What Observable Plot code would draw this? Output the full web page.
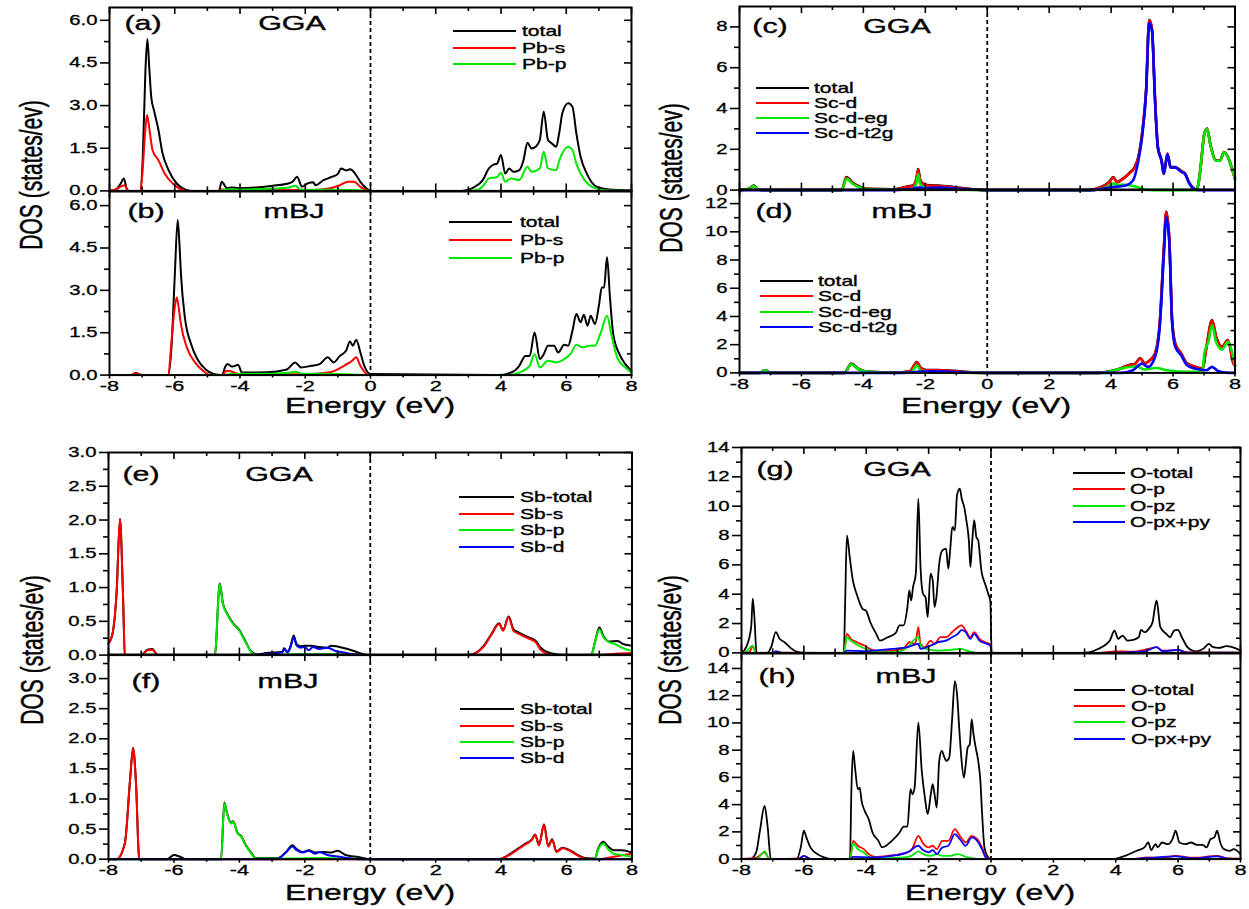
<!DOCTYPE html>
<html><head><meta charset="utf-8">
<script src="https://cdn.jsdelivr.net/npm/d3@7"></script>
<script src="https://cdn.jsdelivr.net/npm/@observablehq/plot@0.6"></script>
<style>
html,body{margin:0;padding:0;background:#fff;}
#root{position:relative;width:1249px;height:909px;overflow:hidden;background:#fff;font-family:"Liberation Sans",Arial,sans-serif;}
.t{position:absolute;white-space:nowrap;color:#000;line-height:1;-webkit-text-stroke:0.35px #000;}
.lg{position:absolute;height:2px;}
</style></head><body><div id="root"></div>
<script>
// ---------- tick values ----------
const xTicks = [-8,-6,-4,-2,0,2,4,6,8];
const xMinor = [-7,-5,-3,-1,1,3,5,7];
const pbTicks = [0,1.5,3,4.5,6];
const pbMinor = [0.75,2.25,3.75,5.25];
const scTicksC = [0,2,4,6,8];
const scMinorC = [1,3,5,7];
const scTicksD = [0,2,4,6,8,10,12];
const scMinorD = [1,3,5,7,9,11];
const sbTicks = [0,0.5,1,1.5,2,2.5,3];
const sbMinor = [0.25,0.75,1.25,1.75,2.25,2.75,3.25];
const oTicks = [0,2,4,6,8,10,12,14];
const oMinor = [1,3,5,7,9,11,13];

// ---------- (a) GGA Pb ----------
const aTotal = [[-8,0],[-7.8,0.05],[-7.66,0.25],[-7.56,0.44],[-7.48,0.1],[-7.4,0],[-7.06,0],[-6.98,1.2],[-6.9,4.2],[-6.84,5.34],[-6.78,4.3],[-6.72,3.3],[-6.63,2.8],[-6.5,2.14],[-6.38,1.35],[-6.19,0.73],[-5.94,0.26],[-5.69,0.05],[-5.5,0],[-4.65,0],[-4.56,0.32],[-4.4,0.1],[-4.25,0.12],[-4.06,0.1],[-3.5,0.12],[-3.0,0.18],[-2.56,0.25],[-2.38,0.33],[-2.25,0.5],[-2.1,0.15],[-1.9,0.28],[-1.75,0.3],[-1.69,0.2],[-1.44,0.38],[-1.19,0.49],[-1.0,0.6],[-0.9,0.79],[-0.75,0.72],[-0.63,0.76],[-0.5,0.65],[-0.44,0.55],[-0.31,0.32],[-0.12,0.08],[0,0],[2.8,0],[3.19,0.14],[3.44,0.38],[3.63,0.79],[3.75,0.91],[3.88,0.96],[4.0,1.26],[4.13,0.61],[4.25,0.79],[4.38,0.67],[4.56,0.73],[4.69,1.08],[4.81,1.69],[4.94,1.49],[5.06,1.55],[5.19,1.79],[5.31,2.79],[5.44,1.79],[5.56,1.67],[5.69,1.55],[5.79,2.08],[5.88,2.73],[6.06,3.08],[6.19,2.96],[6.31,2.02],[6.44,1.2],[6.63,0.61],[6.94,0.14],[7.31,0.05],[8,0.02]];
const aPbS = [[-8,0],[-7.8,0.05],[-7.6,0.18],[-7.53,0.2],[-7.47,0.05],[-7.4,0],[-7.05,0],[-6.98,0.8],[-6.9,2.2],[-6.85,2.67],[-6.78,2.2],[-6.68,1.43],[-6.5,1.08],[-6.31,0.61],[-6.06,0.26],[-5.81,0.05],[-5.6,0],[-4.65,0],[-4.56,0.06],[-4.4,0.02],[-2.0,0.03],[-1.5,0.05],[-1.2,0.1],[-0.94,0.2],[-0.69,0.32],[-0.5,0.32],[-0.31,0.14],[-0.12,0.02],[0,0],[8,0]];
const aPbP = [[-8,0],[-4.6,0],[-4.5,0.05],[-4.0,0.05],[-3.0,0.08],[-2.5,0.12],[-2.3,0.18],[-2.15,0.05],[-1.5,0.04],[-0.5,0.03],[0,0],[3.0,0],[3.31,0.05],[3.5,0.25],[3.63,0.44],[3.88,0.49],[4.0,0.64],[4.13,0.32],[4.31,0.44],[4.56,0.38],[4.81,0.85],[4.94,0.67],[5.19,0.79],[5.31,1.38],[5.44,0.79],[5.69,0.73],[5.79,1.08],[6.06,1.55],[6.19,1.44],[6.31,0.96],[6.56,0.38],[6.94,0.07],[7.3,0.01],[8,0]];

// ---------- (b) mBJ Pb ----------
const bTotal = [[-8,0],[-7.35,0],[-7.19,0.07],[-7.0,0],[-6.2,0],[-6.1,1.0],[-6.0,3.5],[-5.91,5.49],[-5.85,4.5],[-5.81,3.58],[-5.69,2.04],[-5.5,1.1],[-5.31,0.57],[-5.06,0.21],[-4.81,0.04],[-4.55,0],[-4.45,0.3],[-4.38,0.39],[-4.25,0.3],[-4.19,0.31],[-4.06,0.37],[-3.94,0.09],[-3.19,0.1],[-2.56,0.2],[-2.31,0.45],[-2.13,0.27],[-1.81,0.33],[-1.56,0.39],[-1.31,0.63],[-1.13,0.45],[-0.94,0.68],[-0.75,0.86],[-0.63,1.19],[-0.54,1.04],[-0.44,1.25],[-0.31,0.8],[-0.19,0.33],[0,0.04],[3.88,0],[4.31,0.09],[4.56,0.33],[4.75,0.68],[4.88,0.68],[5.03,1.51],[5.19,0.57],[5.31,0.74],[5.44,1.04],[5.63,1.04],[5.75,0.8],[5.94,1.07],[6.06,1.04],[6.19,1.57],[6.31,2.16],[6.44,1.87],[6.54,2.14],[6.65,1.75],[6.75,2.1],[6.88,1.81],[7.0,2.46],[7.09,3.1],[7.16,3.1],[7.25,4.17],[7.34,2.75],[7.44,1.45],[7.63,0.74],[7.81,0.39],[8,0.15]];
const bPbS = [[-8,0],[-7.35,0],[-7.19,0.06],[-7.0,0],[-6.2,0],[-6.1,1.2],[-6.0,2.4],[-5.94,2.75],[-5.88,2.4],[-5.81,1.8],[-5.63,0.98],[-5.38,0.45],[-5.13,0.15],[-4.9,0],[-4.55,0],[-4.45,0.12],[-4.38,0.15],[-4.2,0.1],[-4.0,0.02],[-2.0,0.03],[-1.31,0.09],[-1.1,0.15],[-0.81,0.33],[-0.56,0.51],[-0.44,0.63],[-0.31,0.33],[-0.12,0.04],[0,0],[8,0]];
const bPbP = [[-8,0],[-4.5,0],[-4.3,0.04],[-3.0,0.05],[-2.4,0.1],[-2.3,0.12],[-2.1,0.05],[-1.0,0.04],[0,0],[4.2,0],[4.56,0.09],[4.88,0.33],[5.03,0.74],[5.19,0.27],[5.44,0.51],[5.69,0.45],[5.94,0.57],[6.13,0.74],[6.31,1.07],[6.5,0.98],[6.69,1.04],[6.88,1.04],[7.06,1.51],[7.25,2.1],[7.38,1.45],[7.56,0.63],[7.81,0.27],[8,0.09]];

// ---------- (c) GGA Sc ----------
const cTotal = [[-8,0],[-7.7,0.06],[-7.54,0.22],[-7.4,0.04],[-7.2,0],[-4.7,0],[-4.55,0.64],[-4.34,0.36],[-4.09,0.15],[-3.84,0.06],[-3.0,0.04],[-2.58,0.18],[-2.4,0.22],[-2.28,0.62],[-2.23,1.03],[-2.17,0.52],[-2.08,0.32],[-1.83,0.23],[-1.58,0.22],[-1.08,0.15],[-0.45,0.04],[0,0],[3.3,0],[3.6,0.11],[3.94,0.4],[4.07,0.64],[4.19,0.4],[4.38,0.56],[4.57,0.81],[4.76,1.13],[4.88,1.63],[5.0,2.77],[5.13,4.9],[5.23,8.35],[5.32,7.9],[5.42,4.4],[5.51,2.12],[5.63,1.46],[5.7,0.81],[5.82,1.79],[5.92,1.13],[6.07,1.13],[6.26,0.94],[6.39,0.81],[6.51,0.4],[6.64,0.11],[6.76,0.03],[6.82,0.31],[6.89,1.12],[7.01,2.76],[7.1,3.02],[7.2,2.28],[7.39,1.46],[7.52,1.46],[7.64,1.87],[7.77,1.63],[7.89,1.13],[8,0.56]];
const cScD = [[-8,0],[-7.7,0.05],[-7.54,0.2],[-7.4,0.03],[-7.2,0],[-4.7,0],[-4.55,0.6],[-4.34,0.33],[-4.09,0.13],[-3.84,0.05],[-3.0,0.03],[-2.58,0.16],[-2.4,0.2],[-2.28,0.6],[-2.23,1.0],[-2.17,0.5],[-2.08,0.3],[-1.83,0.21],[-1.58,0.2],[-1.08,0.13],[-0.45,0.03],[0,0],[3.3,0],[3.6,0.1],[3.94,0.38],[4.07,0.62],[4.19,0.38],[4.38,0.54],[4.57,0.79],[4.76,1.11],[4.88,1.61],[5.0,2.75],[5.13,4.89],[5.23,8.33],[5.32,7.87],[5.42,4.39],[5.51,2.1],[5.63,1.44],[5.7,0.79],[5.82,1.77],[5.92,1.11],[6.07,1.11],[6.26,0.92],[6.39,0.79],[6.51,0.38],[6.64,0.1],[6.76,0.02],[6.82,0.3],[6.89,1.11],[7.01,2.75],[7.1,3.0],[7.2,2.26],[7.39,1.44],[7.52,1.44],[7.64,1.85],[7.77,1.61],[7.89,1.11],[8,0.54]];
const cScEg = [[-8,0],[-7.7,0.05],[-7.54,0.2],[-7.4,0.03],[-7.2,0],[-4.7,0],[-4.55,0.55],[-4.34,0.3],[-4.09,0.12],[-3.84,0.04],[-3.0,0.02],[-2.4,0.05],[-2.28,0.4],[-2.23,0.79],[-2.17,0.3],[-2.0,0.08],[-1.5,0.06],[-1.0,0.04],[0,0],[3.4,0],[3.7,0.08],[3.94,0.21],[4.07,0.33],[4.2,0.25],[4.44,0.26],[4.82,0.16],[5.1,0.03],[5.4,0],[6.76,0],[6.82,0.3],[6.89,1.11],[7.01,2.75],[7.1,3.0],[7.2,2.26],[7.39,1.44],[7.52,1.44],[7.64,1.85],[7.77,1.61],[7.89,1.11],[8,0.54]];
const cScT2g = [[-8,0],[-3,0],[-2.5,0.05],[-2.2,0.12],[-2,0.1],[-1.5,0.12],[-1.0,0.08],[-0.4,0.02],[0,0],[3.4,0],[3.94,0.13],[4.44,0.21],[4.7,0.46],[4.88,1.44],[5.0,2.6],[5.13,4.8],[5.23,8.2],[5.32,7.8],[5.42,4.3],[5.51,2.05],[5.63,1.4],[5.7,0.79],[5.82,1.75],[5.92,1.1],[6.07,1.1],[6.26,0.9],[6.39,0.78],[6.51,0.37],[6.64,0.1],[6.8,0],[8,0]];

// ---------- (d) mBJ Sc ----------
const dTotal = [[-8,0],[-7.35,0],[-7.16,0.21],[-7.0,0],[-4.6,0],[-4.48,0.42],[-4.4,0.66],[-4.15,0.28],[-3.84,0.08],[-3.0,0.03],[-2.5,0.12],[-2.27,0.76],[-2.15,0.37],[-1.96,0.21],[-1.58,0.21],[-1.08,0.14],[-0.45,0.03],[0,0],[3.6,0],[4.0,0.13],[4.32,0.33],[4.57,0.56],[4.76,0.63],[4.94,1.04],[5.09,0.68],[5.26,0.92],[5.42,1.39],[5.57,3.52],[5.7,8.7],[5.78,11.43],[5.88,9.42],[5.97,3.75],[6.07,2.1],[6.26,1.39],[6.45,0.68],[6.7,0.45],[6.95,0.33],[7.08,1.86],[7.26,3.75],[7.39,2.57],[7.58,1.86],[7.77,2.33],[7.95,0.68],[8,0.52]];
const dScD = [[-8,0],[-7.35,0],[-7.16,0.19],[-7.0,0],[-4.6,0],[-4.48,0.4],[-4.4,0.63],[-4.15,0.26],[-3.84,0.07],[-3.0,0.02],[-2.5,0.1],[-2.27,0.73],[-2.15,0.35],[-1.96,0.19],[-1.58,0.19],[-1.08,0.12],[-0.45,0.02],[0,0],[3.6,0],[4.0,0.12],[4.32,0.31],[4.57,0.54],[4.76,0.61],[4.94,1.02],[5.09,0.66],[5.26,0.9],[5.42,1.37],[5.57,3.5],[5.7,8.69],[5.78,11.41],[5.88,9.4],[5.97,3.73],[6.07,2.08],[6.26,1.37],[6.45,0.66],[6.7,0.43],[6.95,0.31],[7.08,1.84],[7.26,3.73],[7.39,2.55],[7.58,1.84],[7.77,2.31],[7.95,0.66],[8,0.5]];
const dScEg = [[-8,0],[-7.35,0],[-7.16,0.19],[-7.0,0],[-4.6,0],[-4.48,0.4],[-4.4,0.61],[-4.15,0.24],[-3.84,0.07],[-3.0,0.01],[-2.45,0.05],[-2.27,0.54],[-2.15,0.15],[-1.9,0.06],[-1.0,0.03],[0,0],[3.69,0],[4.32,0.31],[4.82,0.47],[5.07,0.24],[5.45,0.35],[5.82,0.19],[6.45,0.07],[6.95,0.07],[7.01,1.37],[7.14,2.2],[7.26,3.38],[7.39,2.2],[7.58,1.65],[7.77,2.2],[7.89,1.6],[8,0.54]];
const dScT2g = [[-8,0],[-3,0],[-2.4,0.04],[-2.2,0.1],[-1.8,0.12],[-1.2,0.08],[-0.4,0.01],[0,0],[4.3,0],[4.7,0.19],[5.0,0.66],[5.19,0.43],[5.42,1.13],[5.57,3.26],[5.7,8.22],[5.78,11.06],[5.88,9.17],[5.97,3.5],[6.07,1.84],[6.26,1.25],[6.45,0.54],[6.7,0.31],[7.08,0.19],[7.26,0.43],[7.45,0.14],[7.7,0.02],[8,0]];

// ---------- (e) GGA Sb ----------
const eTotal = [[-8,0.17],[-7.88,0.31],[-7.75,0.95],[-7.65,2.02],[-7.56,0.95],[-7.5,0.01],[-7.45,0],[-7.0,0],[-6.81,0.08],[-6.66,0.09],[-6.5,0],[-4.75,0],[-4.6,1.06],[-4.5,0.76],[-4.38,0.62],[-4.19,0.47],[-4.0,0.37],[-3.81,0.2],[-3.63,0.05],[-3.44,0.01],[-3.19,0.03],[-2.69,0.05],[-2.63,0.1],[-2.53,0.05],[-2.44,0.13],[-2.34,0.29],[-2.25,0.16],[-2.13,0.13],[-2.0,0.14],[-1.81,0.14],[-1.56,0.12],[-1.31,0.11],[-1.19,0.14],[-0.94,0.12],[-0.69,0.09],[-0.44,0.05],[-0.19,0.01],[0,0],[3.0,0],[3.44,0.12],[3.69,0.3],[3.94,0.47],[4.06,0.37],[4.23,0.57],[4.38,0.38],[4.56,0.33],[4.81,0.27],[5.06,0.21],[5.19,0.12],[5.38,0.05],[5.6,0.02],[5.9,0],[6.75,0],[6.88,0.22],[7.0,0.41],[7.13,0.28],[7.31,0.2],[7.56,0.21],[7.75,0.16],[8,0.14]];
const eSbS = [[-8,0.17],[-7.88,0.31],[-7.75,0.95],[-7.65,2.01],[-7.56,0.95],[-7.5,0.01],[-7.45,0],[-7.0,0],[-6.81,0.07],[-6.66,0.08],[-6.5,0],[0,0],[3.0,0],[3.44,0.11],[3.69,0.29],[3.94,0.46],[4.06,0.36],[4.23,0.56],[4.38,0.36],[4.56,0.31],[4.81,0.25],[5.06,0.19],[5.19,0.09],[5.38,0.025],[5.56,0],[7.0,0],[7.5,0.02],[8,0.03]];
const eSbP = [[-8,0],[-4.75,0],[-4.6,1.05],[-4.5,0.75],[-4.38,0.61],[-4.19,0.46],[-4.0,0.36],[-3.81,0.19],[-3.63,0.04],[-3.44,0],[-2.5,0.01],[-1.5,0.015],[0,0],[6.75,0],[6.88,0.21],[7.0,0.38],[7.13,0.26],[7.31,0.19],[7.5,0.16],[7.69,0.11],[8,0.06]];
const eSbD = [[-8,0],[-3.5,0],[-3.19,0.015],[-2.69,0.04],[-2.63,0.09],[-2.53,0.04],[-2.44,0.11],[-2.34,0.26],[-2.25,0.14],[-2.13,0.11],[-2.0,0.12],[-1.88,0.07],[-1.75,0.12],[-1.56,0.09],[-1.31,0.11],[-1.06,0.06],[-0.81,0.04],[-0.56,0.015],[-0.31,0],[8,0]];

// ---------- (f) mBJ Sb ----------
const fTotal = [[-8,0],[-7.75,0],[-7.5,0.27],[-7.34,1.33],[-7.25,1.85],[-7.16,1.27],[-7.06,0],[-6.2,0],[-6.0,0.07],[-5.81,0.04],[-5.63,0],[-4.56,0],[-4.46,0.94],[-4.38,0.77],[-4.25,0.6],[-4.19,0.63],[-4.06,0.44],[-3.94,0.38],[-3.81,0.24],[-3.63,0.1],[-3.5,0.02],[-2.81,0.02],[-2.56,0.13],[-2.38,0.23],[-2.25,0.17],[-2.06,0.12],[-1.88,0.15],[-1.69,0.11],[-1.44,0.12],[-1.19,0.11],[-1.0,0.14],[-0.75,0.07],[-0.56,0.05],[-0.31,0.03],[0,0],[3.94,0],[4.31,0.1],[4.69,0.24],[4.94,0.33],[5.04,0.41],[5.16,0.24],[5.31,0.58],[5.44,0.22],[5.56,0.33],[5.69,0.13],[5.88,0.19],[6.06,0.16],[6.31,0.08],[6.56,0.02],[6.88,0.01],[6.94,0.13],[7.13,0.29],[7.25,0.22],[7.44,0.15],[7.69,0.15],[8,0.11]];
const fSbS = [[-8,0],[-7.75,0],[-7.5,0.26],[-7.34,1.32],[-7.25,1.84],[-7.16,1.26],[-7.06,0],[0,0],[3.94,0],[4.31,0.09],[4.69,0.23],[4.94,0.32],[5.04,0.4],[5.16,0.23],[5.31,0.57],[5.44,0.21],[5.56,0.32],[5.69,0.12],[5.88,0.18],[6.06,0.15],[6.31,0.07],[6.56,0.01],[7.0,0],[7.44,0.04],[8,0.09]];
const fSbP = [[-8,0],[-4.56,0],[-4.46,0.93],[-4.38,0.76],[-4.25,0.59],[-4.19,0.62],[-4.06,0.43],[-3.94,0.37],[-3.81,0.23],[-3.63,0.09],[-3.5,0.01],[-2.5,0.01],[-1.5,0.02],[0,0],[6.88,0],[6.94,0.12],[7.13,0.26],[7.25,0.18],[7.44,0.09],[7.69,0.07],[8,0.04]];
const fSbD = [[-8,0],[-2.9,0],[-2.81,0.01],[-2.56,0.12],[-2.38,0.21],[-2.25,0.15],[-2.06,0.11],[-1.88,0.14],[-1.69,0.09],[-1.56,0.12],[-1.31,0.07],[-0.94,0.04],[-0.56,0.01],[-0.3,0],[8,0]];

// ---------- (g) GGA O ----------
const gTotal = [[-8,0],[-7.85,0.39],[-7.69,1.75],[-7.64,3.69],[-7.58,2.2],[-7.52,0],[-7.18,0],[-7.05,0.39],[-6.9,1.41],[-6.78,0.96],[-6.62,0.73],[-6.43,0.34],[-6.18,0.05],[-5.93,0],[-4.72,0],[-4.68,3.12],[-4.62,8.01],[-4.53,6.53],[-4.43,4.94],[-4.31,4.03],[-4.12,3.0],[-4.0,2.85],[-3.87,2.09],[-3.68,1.3],[-3.56,0.84],[-3.31,1.07],[-3.06,1.34],[-2.93,1.87],[-2.81,1.87],[-2.68,3.12],[-2.62,4.26],[-2.56,3.57],[-2.5,4.48],[-2.41,5.4],[-2.33,10.52],[-2.26,5.85],[-2.18,4.03],[-2.1,3.8],[-2.03,2.44],[-1.94,5.4],[-1.87,4.94],[-1.81,3.12],[-1.75,3.8],[-1.66,6.08],[-1.56,6.99],[-1.44,7.1],[-1.37,5.74],[-1.31,6.99],[-1.24,8.58],[-1.16,8.35],[-1.09,10.74],[-1.0,11.2],[-0.94,10.52],[-0.86,9.95],[-0.79,9.04],[-0.71,7.67],[-0.66,5.85],[-0.6,7.67],[-0.54,9.04],[-0.47,7.9],[-0.41,7.67],[-0.31,5.62],[-0.19,4.71],[-0.09,4.03],[-0.02,3.5],[0.02,0],[2.93,0],[3.43,0.27],[3.81,0.84],[3.96,1.52],[4.08,0.96],[4.22,1.18],[4.37,0.84],[4.56,0.89],[4.74,1.07],[4.81,1.57],[4.93,1.41],[5.06,1.64],[5.18,2.09],[5.31,3.57],[5.43,1.75],[5.62,1.3],[5.74,1.07],[5.87,1.52],[5.99,1.57],[6.12,1.07],[6.3,0.39],[6.55,0.11],[6.8,0.27],[6.99,0.61],[7.12,0.39],[7.3,0.34],[7.55,0.46],[7.74,0.39],[8,0.16]];
const gOP = [[-8,0],[-7.75,0.05],[-7.64,0.45],[-7.55,0.05],[-7.5,0],[-7.0,0],[-6.9,0.1],[-6.7,0.02],[-4.72,0],[-4.62,1.3],[-4.5,0.96],[-4.3,0.73],[-4.06,0.5],[-3.81,0.2],[-3.56,0.11],[-3.18,0.16],[-2.81,0.27],[-2.62,0.73],[-2.43,0.61],[-2.33,1.75],[-2.26,0.61],[-2.12,0.39],[-1.94,0.84],[-1.81,0.61],[-1.62,1.07],[-1.44,1.07],[-1.25,1.41],[-1.06,1.75],[-0.94,1.87],[-0.81,1.52],[-0.66,1.07],[-0.54,1.41],[-0.37,0.96],[-0.19,0.73],[-0.02,0.57],[0.02,0],[3.5,0],[3.96,0.11],[4.5,0.08],[4.93,0.2],[5.31,0.39],[5.5,0.15],[5.99,0.2],[6.3,0.03],[8,0.02]];
const gOPz = [[-8,0],[-7.85,0.1],[-7.64,0.5],[-7.54,0],[-4.72,0],[-4.62,1.07],[-4.5,0.84],[-4.25,0.5],[-3.93,0.2],[-3.68,0.05],[-3.0,0.05],[-2.68,0.39],[-2.33,1.07],[-2.26,0.5],[-2.08,0.27],[-1.69,0.16],[-1.31,0.2],[-1.0,0.27],[-0.69,0.11],[-0.44,0],[8,0]];
const gOPxy = [[-8,0],[-7.0,0],[-6.9,0.1],[-6.7,0],[-4.72,0],[-4.62,0.15],[-4.0,0.12],[-3.81,0.16],[-3.18,0.27],[-2.68,0.39],[-2.33,0.61],[-2.26,0.27],[-1.94,0.5],[-1.69,0.73],[-1.44,0.84],[-1.25,1.07],[-1.06,1.3],[-0.94,1.57],[-0.81,1.41],[-0.66,0.96],[-0.54,1.3],[-0.37,0.84],[-0.12,0.61],[-0.02,0.5],[0.02,0],[3.5,0],[4.93,0.11],[5.31,0.39],[5.5,0.12],[5.99,0.2],[6.3,0.02],[8,0.01]];

// ---------- (h) mBJ O ----------
const hTotal = [[-8,0],[-7.72,0],[-7.53,0.49],[-7.41,2.08],[-7.26,3.91],[-7.16,2.32],[-7.06,0],[-6.23,0],[-6.1,0.86],[-6.0,2.08],[-5.92,1.59],[-5.79,0.86],[-5.6,0.42],[-5.35,0.12],[-5.1,0],[-4.52,0],[-4.48,4.76],[-4.42,7.94],[-4.36,6.72],[-4.27,5.13],[-4.21,5.25],[-4.15,4.28],[-4.05,3.54],[-3.92,2.93],[-3.8,1.95],[-3.61,1.34],[-3.49,0.86],[-3.18,1.34],[-2.93,1.95],[-2.8,2.39],[-2.68,2.39],[-2.58,5.13],[-2.52,4.76],[-2.45,5.25],[-2.33,10.02],[-2.22,6.47],[-2.12,4.52],[-2.03,3.3],[-1.93,4.76],[-1.87,5.5],[-1.81,4.76],[-1.74,3.79],[-1.66,7.21],[-1.58,7.94],[-1.49,7.45],[-1.43,7.21],[-1.34,7.45],[-1.25,10.14],[-1.16,13.07],[-1.08,11.85],[-1.02,9.65],[-0.96,7.7],[-0.87,5.99],[-0.81,6.96],[-0.75,8.18],[-0.68,8.43],[-0.62,10.26],[-0.56,9.16],[-0.49,8.18],[-0.41,7.21],[-0.34,5.74],[-0.29,3.54],[-0.21,0.86],[-0.12,0.24],[0,0],[3.92,0],[4.3,0.24],[4.67,0.61],[4.92,0.86],[5.04,1.22],[5.14,0.66],[5.27,1.1],[5.35,0.86],[5.48,1.22],[5.67,1.1],[5.82,1.47],[5.92,2.08],[6.04,1.22],[6.23,1.1],[6.41,1.22],[6.6,1.05],[6.79,1.05],[6.91,0.86],[7.04,1.47],[7.16,1.59],[7.25,2.08],[7.35,1.22],[7.47,0.73],[7.66,0.61],[7.78,0.73],[8,0.37]];
const hOP = [[-8,0],[-7.53,0.1],[-7.26,0.49],[-7.1,0],[-6.1,0.05],[-6.0,0.24],[-5.8,0.02],[-4.52,0],[-4.42,1.34],[-4.27,0.98],[-4.08,0.73],[-3.92,0.37],[-3.73,0.17],[-3.3,0.24],[-2.8,0.42],[-2.55,0.66],[-2.33,1.71],[-2.18,1.15],[-2.0,0.86],[-1.87,0.98],[-1.74,0.73],[-1.56,1.34],[-1.37,1.34],[-1.16,2.2],[-1.0,1.71],[-0.81,1.22],[-0.62,1.71],[-0.44,1.47],[-0.29,0.86],[-0.16,0.17],[0,0],[4.5,0],[5.04,0.12],[5.5,0.08],[5.92,0.24],[6.5,0.1],[7.25,0.24],[7.6,0.05],[8,0.03]];
const hOPz = [[-8,0],[-7.5,0.03],[-7.26,0.56],[-7.1,0],[-4.52,0],[-4.42,1.15],[-4.27,0.73],[-4.08,0.49],[-3.92,0.17],[-3.67,0.05],[-2.8,0.12],[-2.55,0.24],[-2.33,0.56],[-2.18,0.37],[-1.93,0.24],[-1.74,0.37],[-1.56,0.24],[-1.31,0.24],[-1.06,0.37],[-0.81,0.17],[-0.56,0.05],[-0.3,0],[4.5,0],[8,0.02]];
const hOPxy = [[-8,0],[-6.2,0],[-6.0,0.24],[-5.8,0.02],[-4.52,0],[-4.42,0.17],[-3.8,0.12],[-3.18,0.24],[-2.68,0.49],[-2.33,0.98],[-2.18,0.66],[-2.0,0.49],[-1.87,0.66],[-1.74,0.37],[-1.56,0.86],[-1.37,0.98],[-1.16,1.83],[-1.0,1.47],[-0.81,0.98],[-0.62,1.59],[-0.44,1.34],[-0.29,0.73],[-0.16,0.12],[0,0],[4.5,0],[5.04,0.08],[5.92,0.2],[6.5,0.06],[7.25,0.2],[7.6,0.03],[8,0.02]];

// ---------- labels ----------
const pbNames = ["total","Pb-s","Pb-p"];
const scNames = ["total","Sc-d","Sc-d-eg","Sc-d-t2g"];
const sbNames = ["Sb-total","Sb-s","Sb-p","Sb-d"];
const oNames = ["O-total","O-p","O-pz","O-px+py"];
const colors = ["#000000","#ff0000","#00e800","#0000ff"];

// ---------- layout ----------
const STRETCH = 1.45;
const root = document.getElementById("root");

function addText(txt, x, y, size, anchor, extra) {
  const d = document.createElement("div");
  d.className = "t";
  d.textContent = txt;
  d.style.left = x + "px";
  d.style.top = y + "px";
  d.style.fontSize = size + "px";
  d.style.transformOrigin = "0 0";
  d.style.transform = anchor === "middle"
    ? `scaleX(${STRETCH}) translate(-50%,-50%)`
    : `scaleX(${STRETCH}) translate(0,-50%)`;
  if (extra) Object.assign(d.style, extra);
  root.appendChild(d);
  return d;
}
function addRotText(txt, x, y, size) {
  const d = document.createElement("div");
  d.className = "t";
  d.textContent = txt;
  d.style.left = x + "px";
  d.style.top = y + "px";
  d.style.fontSize = size + "px";
  d.style.transformOrigin = "0 0";
  d.style.transform = `rotate(-90deg) scale(1, ${STRETCH}) translate(-50%,-50%)`;
  root.appendChild(d);
}

function makePanel(cfg) {
  const [x0, x1, y0, y1] = cfg.frame;
  const ml = 60, mr = 12, mt = 12, mb = cfg.bottom ? 40 : 12;
  const W = x1 - x0, H = y1 - y0;
  const marks = [];
  marks.push(Plot.ruleX([0], {stroke: "#000", strokeWidth: 1.8, strokeDasharray: "4,3"}));
  cfg.series.forEach((s, i) => {
    marks.push(Plot.line(s, {x: d => d[0], y: d => d[1], stroke: colors[i], strokeWidth: cfg.lw, curve: "monotone-x"}));
  });
  marks.push(Plot.frame({stroke: "#000", strokeWidth: 2}));
  marks.push(Plot.axisY({ticks: cfg.yTicks, tickSize: 9, tickPadding: 3, tickFormat: cfg.yFmt, label: null, fontSize: 14, strokeWidth: 1.6}));
  marks.push(Plot.axisY({ticks: cfg.yMinor.filter(v => v < cfg.yMax), tickSize: 5, tickFormat: () => "", label: null, strokeWidth: 1.6}));
  marks.push(Plot.tickY(cfg.yTicks, {y: d => d, insetLeft: W - 7, stroke: "#000", strokeWidth: 1.6}));
  marks.push(Plot.tickY(cfg.yMinor.filter(v => v < cfg.yMax), {y: d => d, insetLeft: W - 4, stroke: "#000", strokeWidth: 1.6}));
  marks.push(Plot.tickX(xTicks, {x: d => d, insetBottom: H - 7, stroke: "#000", strokeWidth: 1.6}));
  marks.push(Plot.tickX(xMinor, {x: d => d, insetBottom: H - 4, stroke: "#000", strokeWidth: 1.6}));
  if (cfg.bottom) {
    marks.push(Plot.axisX({ticks: xTicks, tickSize: 4, tickPadding: 1, tickFormat: d => String(d), label: null, fontSize: 15, strokeWidth: 1.6}));
    marks.push(Plot.axisX({ticks: xMinor, tickSize: 3, tickFormat: () => "", label: null, strokeWidth: 1.6}));
  } else {
    marks.push(Plot.tickX(xTicks, {x: d => d, insetTop: H - 7, stroke: "#000", strokeWidth: 1.6}));
    marks.push(Plot.tickX(xMinor, {x: d => d, insetTop: H - 4, stroke: "#000", strokeWidth: 1.6}));
  }
  const svg = Plot.plot({
    width: W + ml + mr, height: H + mt + mb,
    marginLeft: ml, marginRight: mr, marginTop: mt, marginBottom: mb,
    x: cfg.bottom ? {domain: [-8, 8]} : {domain: [-8, 8], axis: null},
    y: {domain: [0, cfg.yMax]},
    style: {background: "transparent", overflow: "visible", maxWidth: "none", fontFamily: "'Liberation Sans', Arial, sans-serif", color: "#000"},
    marks
  });
  svg.style.position = "absolute";
  svg.style.left = (x0 - ml) + "px";
  svg.style.top = (y0 - mt) + "px";
  root.appendChild(svg);
  svg.querySelectorAll('g[aria-label$="tick label"] text').forEach(t => {
    if (!t.textContent) return;
    const len = t.getComputedTextLength();
    t.setAttribute("textLength", (len * STRETCH).toFixed(1));
    t.setAttribute("lengthAdjust", "spacingAndGlyphs");
    t.setAttribute("stroke", "#000");
    t.setAttribute("stroke-width", "0.3");
  });
  addText(cfg.tag, cfg.tagPos[0], cfg.tagPos[1], 21, "middle");
  addText(cfg.method, cfg.methodPos[0], cfg.methodPos[1], 21, "middle");
  const [lx0, lx1, tx] = cfg.legendX;
  cfg.names.forEach((n, i) => {
    const ln = document.createElement("div");
    ln.className = "lg";
    ln.style.left = lx0 + "px";
    ln.style.width = (lx1 - lx0) + "px";
    ln.style.top = (cfg.legendY[i] - 1) + "px";
    ln.style.background = colors[i];
    root.appendChild(ln);
    addText(n, tx, cfg.legendY[i], 14.5, "start");
  });
}

const pbFmt = d => d.toFixed(1);
const intFmt = d => String(d);

makePanel({frame: [109, 631, 7.3, 190.7], yMax: 6.45, yTicks: pbTicks, yMinor: pbMinor, yFmt: pbFmt, lw: 2,
  series: [aTotal, aPbS, aPbP], names: pbNames, tag: "(a)", tagPos: [143, 22], method: "GGA", methodPos: [292, 22],
  legendX: [453, 516, 522], legendY: [31, 48, 64], bottom: false});
makePanel({frame: [109, 631, 190.7, 374.3], yMax: 6.5, yTicks: pbTicks, yMinor: pbMinor, yFmt: pbFmt, lw: 2,
  series: [bTotal, bPbS, bPbP], names: pbNames, tag: "(b)", tagPos: [146, 210], method: "mBJ", methodPos: [294, 210],
  legendX: [449, 512, 520], legendY: [222, 240, 258], bottom: true});
makePanel({frame: [738.5, 1234, 5.7, 189.3], yMax: 9, yTicks: scTicksC, yMinor: scMinorC, yFmt: intFmt, lw: 2.6,
  series: [cTotal, cScD, cScEg, cScT2g], names: scNames, tag: "(c)", tagPos: [770, 25], method: "GGA", methodPos: [897, 25],
  legendX: [756, 809, 814], legendY: [88, 103, 118, 133], bottom: false});
makePanel({frame: [738.5, 1234, 189.3, 372.7], yMax: 13, yTicks: scTicksD, yMinor: scMinorD, yFmt: intFmt, lw: 2.6,
  series: [dTotal, dScD, dScEg, dScT2g], names: scNames, tag: "(d)", tagPos: [774, 210], method: "mBJ", methodPos: [902, 210],
  legendX: [760, 813, 818], legendY: [281, 296, 312, 327], bottom: true});
makePanel({frame: [107.5, 631, 451.7, 654.3], yMax: 3, yTicks: sbTicks, yMinor: sbMinor, yFmt: pbFmt, lw: 2,
  series: [eTotal, eSbS, eSbP, eSbD], names: sbNames, tag: "(e)", tagPos: [141, 473], method: "GGA", methodPos: [279, 473],
  legendX: [459, 514, 520], legendY: [497, 514, 530, 547], bottom: false});
makePanel({frame: [107.5, 631, 654.3, 859], yMax: 3.4, yTicks: sbTicks, yMinor: sbMinor, yFmt: pbFmt, lw: 2,
  series: [fTotal, fSbS, fSbP, fSbD], names: sbNames, tag: "(f)", tagPos: [146, 680], method: "mBJ", methodPos: [288, 680],
  legendX: [460, 514, 520], legendY: [709, 726, 742, 758], bottom: true});
makePanel({frame: [741, 1240, 447.3, 652.7], yMax: 14, yTicks: oTicks, yMinor: oMinor, yFmt: intFmt, lw: 1.8,
  series: [gTotal, gOP, gOPz, gOPxy], names: oNames, tag: "(g)", tagPos: [775, 468], method: "GGA", methodPos: [897, 468],
  legendX: [1073, 1125, 1130], legendY: [473, 489, 506, 522], bottom: false});
makePanel({frame: [741, 1240, 652.7, 858.3], yMax: 15.1, yTicks: oTicks, yMinor: oMinor, yFmt: intFmt, lw: 1.8,
  series: [hTotal, hOP, hOPz, hOPxy], names: oNames, tag: "(h)", tagPos: [777, 675], method: "mBJ", methodPos: [906, 675],
  legendX: [1074, 1125, 1131], legendY: [690, 706, 722, 739], bottom: true});

// axis titles
addText("Energy (eV)", 370, 406, 22, "middle");
addText("Energy (eV)", 986, 406, 22, "middle");
addText("Energy (eV)", 370, 893, 22, "middle");
addText("Energy (eV)", 990, 893, 22, "middle");
addRotText("DOS (states/ev)", 31, 175, 21);
addRotText("DOS (states/ev)", 671, 178, 21);
addRotText("DOS (states/ev)", 32, 650, 21);
addRotText("DOS (states/ev)", 670, 650, 21);
</script></body></html>
